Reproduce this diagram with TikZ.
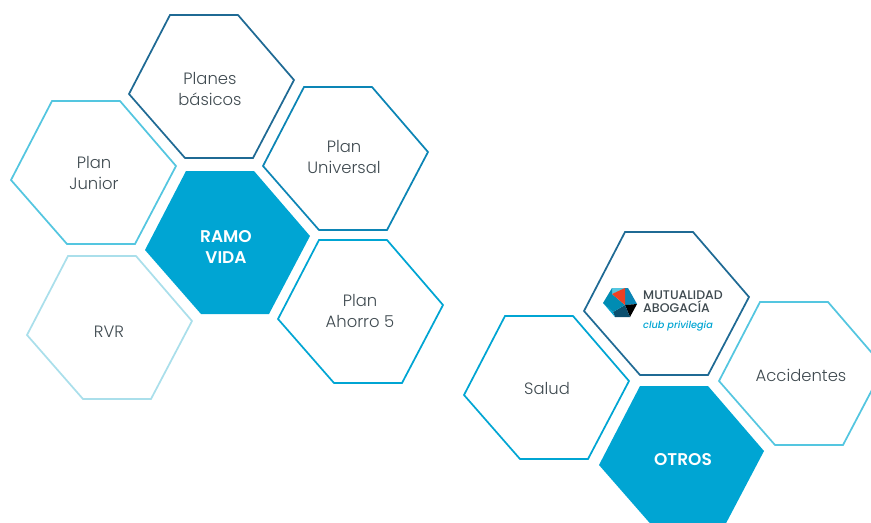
\documentclass[tikz,border=0pt]{standalone}
\usepackage{fontspec}
\setmainfont{Poppins Light}[BoldFont=Poppins SemiBold,ItalicFont=Poppins Medium Italic]
\newfontfamily\logofont{Poppins Medium}
\definecolor{hexblue}{HTML}{00A5D3}
\definecolor{hexnavy}{HTML}{1F6A94}
\definecolor{hexdeep}{HTML}{0C85B5}
\definecolor{hexsky}{HTML}{54C6E0}
\definecolor{hexpale}{HTML}{AADFEB}
\definecolor{hextext}{HTML}{3F4A50}
\definecolor{logored}{HTML}{EE4023}
\definecolor{logodark}{HTML}{0B4F6E}
\newcommand{\hexcell}[2]{\path[#1] (#2) ++(0,0) -- ++(68,0) -- ++(56,65) -- ++(-41,78) -- ++(-68,0) -- ++(-56,-64) -- cycle;}
\tikzset{
	hexline/.style={line width=0.052cm,fill=white,line join=miter},
	hexfill/.style={fill=hexblue,draw=none},
	hexlabel/.style={font=\fontsize{14}{17.5}\selectfont,text=hextext,align=center},
	hexbold/.style={font=\fontsize{14.5}{17.5}\selectfont\bfseries,text=white,align=center},
}
\begin{document}
\begin{tikzpicture}[x=0.03cm,y=-0.03cm]
	\useasboundingbox (0,0) rectangle (871,522);
	\clip (0,0) rectangle (871,522);
	% ramo vida
	\hexcell{hexline,draw=hexnavy}{170,15}
	\hexcell{hexline,draw=hexsky}{52,101}
	\hexcell{hexline,draw=hexdeep}{304,87}
	\hexcell{hexfill}{186,171}
	\hexcell{hexline,draw=hexpale}{68,256}
	\hexcell{hexline,draw=hexblue}{319,240}
	% otros
	\hexcell{hexline,draw=hexnavy}{625,232}
	\hexcell{hexline,draw=hexblue}{505,316}
	\hexcell{hexline,draw=hexsky}{760,302}
	\hexcell{hexfill}{640,386}
	\node[hexlabel] (planes) at (210,89) {Planes\\básicos};
	\node[hexlabel] (junior) at (94,173) {Plan\\Junior};
	\node[hexlabel] (universal) at (344,157) {Plan\\Universal};
	\node[hexbold] (ramo) at (226,247) {RAMO\\VIDA};
	\node[hexlabel] (rvr) at (109,332) {RVR};
	\node[hexlabel] (ahorro) at (360,311) {Plan\\Ahorro 5};
	\node[hexlabel] (salud) at (547,388) {Salud};
	\node[hexlabel] (accidentes) at (801,375) {Accidentes};
	\node[hexbold] (otros) at (683,460) {OTROS};
	% logo
	\fill[hexsky] (612,288) -- (628,288) -- (612,294) -- cycle;
	\fill[hexdeep] (625,288) -- (628,288) -- (637,304) -- (625,305) -- cycle;
	\fill[black] (637,304) -- (630,317) -- (625,305) -- cycle;
	\fill[logodark] (630,317) -- (615,317) -- (613,312) -- (625,305) -- cycle;
	\fill[hexblue] (615,317) -- (603,303) -- (613,312) -- cycle;
	\fill[hexblue!85!black] (603,303) -- (612,288) -- (612,294) -- (625,305) -- (613,312) -- cycle;
	\fill[logored] (612,294) -- (625,288) -- (625,305) -- cycle;
	\node[anchor=west,inner sep=0pt,font=\logofont\fontsize{10.7}{11}\selectfont,text=hextext,align=left] (mutual) at (643,302) {MUTUALIDAD\\ABOGACÍA};
	\node[anchor=west,inner sep=0pt,font=\fontsize{8.3}{10}\selectfont\itshape,text=hexblue] (club) at (643,326) {club privilegia};
\end{tikzpicture}
\end{document}
